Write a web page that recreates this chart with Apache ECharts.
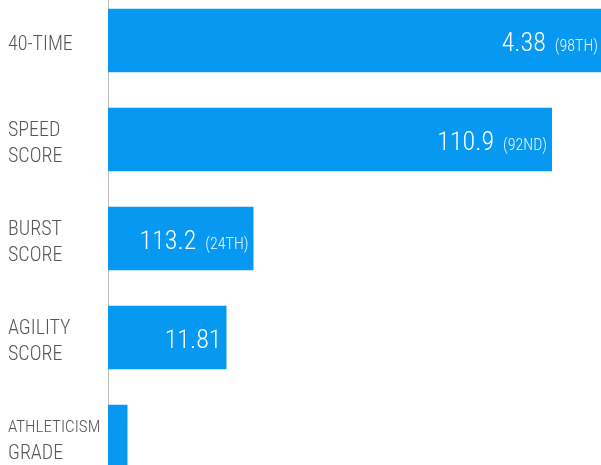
<!DOCTYPE html>
<html>
<head>
<meta charset="utf-8">
<script src="https://cdn.jsdelivr.net/npm/echarts@6/dist/echarts.min.js"></script>
<style>
html,body{margin:0;padding:0;background:#fff;}
#c{width:601px;height:465px;}
</style>
</head>
<body>
<div id="c"></div>
<script>
const categories = ['40-TIME', 'SPEED\nSCORE', 'BURST\nSCORE', 'AGILITY\nSCORE', 'ATHLETICISM\nGRADE'];
const barValues = [99.0, 88.8, 29.1, 23.7, 3.9];
const displayValues = ['4.38', '110.9', '113.2', '11.81', ''];
const ranks = ['98TH', '92ND', '24TH', '', ''];

const chart = echarts.init(document.getElementById('c'));
const FONT = 'Roboto, sans-serif';
const FW = '300 condensed';
const LABEL_COLOR = '#57555c';
chart.setOption({
  animation: false,
  grid: { left: 108, top: -9, width: 500, height: 495, containLabel: false, outerBoundsMode: 'none' },
  xAxis: {
    type: 'value', min: 0, max: 100, show: false
  },
  yAxis: {
    type: 'category',
    data: categories,
    inverse: true,
    axisTick: { show: false },
    axisLine: { show: true, lineStyle: { color: '#bdbdbd', width: 1 } },
    axisLabel: {
      align: 'left',
      margin: 100,
      padding: [9, 0, 0, 0],
      color: LABEL_COLOR,
      fontFamily: FONT,
      fontWeight: FW,
      fontSize: 20,
      lineHeight: 26,
      formatter: function (val) {
        return val.split('\n').map(function (w) {
          return w.length > 8 ? '{s|' + w + '}' : '{n|' + w + '}';
        }).join('\n');
      },
      rich: {
        n: { fontFamily: FONT, fontWeight: FW, fontSize: 20, lineHeight: 26, color: LABEL_COLOR },
        s: { fontFamily: FONT, fontWeight: FW, fontSize: 17, lineHeight: 26, color: LABEL_COLOR }
      }
    }
  },
  series: [{
    type: 'bar',
    data: barValues,
    barCategoryGap: '36%',
    itemStyle: { color: '#0799f2' },
    label: {
      show: true,
      position: 'insideRight',
      distance: 5,
      offset: [0, 4],
      color: '#ffffff',
      fontFamily: FONT,
      fontWeight: FW,
      formatter: function (p) {
        const v = displayValues[p.dataIndex];
        const r = ranks[p.dataIndex];
        if (!v) return '';
        return r ? '{v|' + v + '}{r|(' + r + ')}' : '{v|' + v + '}';
      },
      rich: {
        v: { fontFamily: FONT, fontWeight: FW, fontSize: 26, color: '#ffffff', lineHeight: 30 },
        r: { fontFamily: FONT, fontWeight: FW, fontSize: 16, color: '#e8f4fe', lineHeight: 30, padding: [5, 0, 0, 9] }
      }
    }
  }]
});
</script>
</body>
</html>
